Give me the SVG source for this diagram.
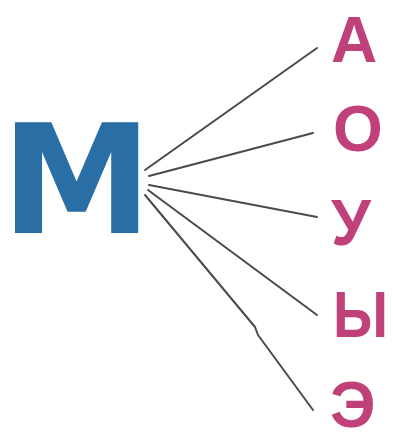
<svg xmlns="http://www.w3.org/2000/svg" width="393" height="433" viewBox="0 0 393 433">
<style>
.m{font-family:"DejaVu Sans","Liberation Sans",sans-serif;font-weight:bold;fill:#2a6ea6}
.v{font-family:"Liberation Sans",Arial,sans-serif;font-weight:bold;fill:#c0417a;font-size:64px}
.ln{stroke:#4a4a4a;stroke-width:2;fill:none;stroke-linecap:round;stroke-linejoin:round}
</style>
<rect width="393" height="433" fill="#ffffff"/>
<g id="node-M"><text class="m" x="1" y="233" font-size="152">М</text></g>
<g id="node-A"><text class="v" x="331" y="62" font-size="67">А</text></g>
<g id="node-O"><text class="v" x="333" y="151">О</text></g>
<g id="node-U"><text class="v" x="331" y="245">У</text></g>
<g id="node-Y"><text class="v" x="333" y="337" textLength="55" lengthAdjust="spacingAndGlyphs">Ы</text></g>
<g id="node-E"><text class="v" x="330" y="427">Э</text></g>
<g id="connectors">
<line class="ln" x1="145" y1="170" x2="317" y2="48"/>
<line class="ln" x1="149" y1="176" x2="313" y2="133"/>
<line class="ln" x1="149" y1="185" x2="317" y2="217"/>
<line class="ln" x1="148" y1="190" x2="317" y2="315"/>
<polyline class="ln" points="145,195 255,327 258,335 313,410"/>
</g>
</svg>
